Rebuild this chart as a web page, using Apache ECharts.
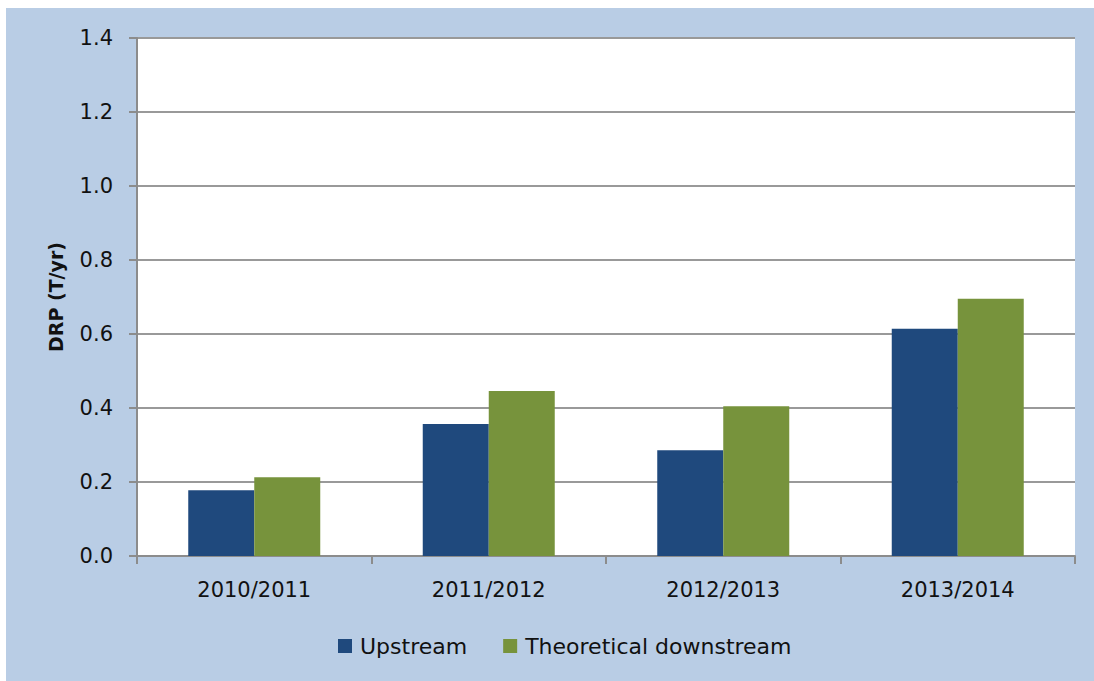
<!DOCTYPE html>
<html>
<head>
<meta charset="utf-8">
<script src="https://cdn.jsdelivr.net/npm/echarts@6/dist/echarts.min.js"></script>
<style>
  html, body { margin: 0; padding: 0; background: #ffffff; }
  #chart { width: 1094px; height: 681px; }
</style>
</head>
<body>
<div id="chart"></div>
<script>
(function () {
  'use strict';
  const years = ['2010/2011', '2011/2012', '2012/2013', '2013/2014'];
  const upstream = [0.178, 0.357, 0.286, 0.614];
  const downstream = [0.213, 0.446, 0.405, 0.695];
  const yTicks = [0, 0.2, 0.4, 0.6, 0.8, 1.0, 1.2, 1.4];

  const font = '"DejaVu Sans", sans-serif';
  const chart = echarts.init(document.getElementById('chart'), null, { renderer: 'svg' });
  chart.setOption({
    animation: false,
    textStyle: { fontFamily: font },
    graphic: [{
      type: 'rect', z: -10, silent: true,
      shape: { x: 6, y: 8, width: 1088, height: 673 },
      style: { fill: '#b9cde5' }
    }],
    grid: { left: 137, right: 19, top: 38, bottom: 125, backgroundColor: '#ffffff', show: true, borderWidth: 0 },
    legend: {
      data: ['Upstream', 'Theoretical downstream'],
      bottom: 19, left: 333,
      itemWidth: 14, itemHeight: 14, itemGap: 36,
      icon: 'rect',
      textStyle: { fontSize: 22, color: '#111', fontFamily: font, padding: [0, 0, 0, 3] }
    },
    xAxis: {
      type: 'category', data: years,
      axisLine: { lineStyle: { color: '#8c8c8c', width: 2 } },
      axisTick: { show: true, length: 8, lineStyle: { color: '#8c8c8c', width: 2 } },
      axisLabel: { fontSize: 21, color: '#111', margin: 23 }
    },
    yAxis: {
      type: 'value', min: 0, max: yTicks[yTicks.length - 1], interval: 0.2,
      name: 'DRP (T/yr)', nameLocation: 'middle', nameGap: 72, nameRotate: 90,
      nameTextStyle: { fontSize: 19, fontWeight: 'bold', color: '#111' },
      axisLine: { show: true, lineStyle: { color: '#8c8c8c', width: 2 } },
      axisTick: { show: true, length: 8, lineStyle: { color: '#8c8c8c', width: 2 } },
      axisLabel: { fontSize: 21, color: '#111', margin: 24, formatter: function (v) { return v.toFixed(1); } },
      splitLine: { lineStyle: { color: '#999999', width: 2 } }
    },
    series: [
      { name: 'Upstream', type: 'bar', data: upstream, barWidth: 66, barGap: '0%',
        itemStyle: { color: '#1f497d' } },
      { name: 'Theoretical downstream', type: 'bar', data: downstream, barWidth: 66,
        itemStyle: { color: '#77933c' } }
    ]
  });
})();
</script>
</body>
</html>
